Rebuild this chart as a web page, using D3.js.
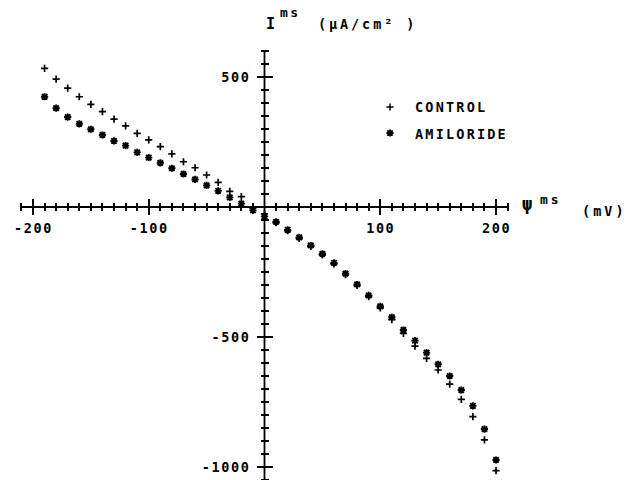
<!DOCTYPE html>
<html>
<head>
<meta charset="utf-8">
<script src="https://cdn.jsdelivr.net/npm/d3@7"></script>
<style>
  html, body { margin: 0; padding: 0; background: #fff; }
  svg { display: block; }
  text { font-family: "DejaVu Sans Mono", "Liberation Mono", monospace; fill: #000; font-weight: bold; }
</style>
</head>
<body>
<svg id="chart" width="640" height="480"></svg>
<script>
// Membrane potential steps (mV)
const potentials = [-190,-180,-170,-160,-150,-140,-130,-120,-110,-100,-90,-80,-70,-60,-50,-40,-30,-20,-10,0,
                    10,20,30,40,50,60,70,80,90,100,110,120,130,140,150,160,170,180,190,200];
// Current density, control (µA/cm²)
const control = [533,492,457,424,395,367,338,312,283,258,232,204,174,151,123,95,60,40,-3,-26,
                 -60,-91,-121,-152,-184,-219,-260,-302,-345,-388,-433,-486,-535,-582,-627,-681,-740,-806,-896,-1014];
// Current density, with amiloride (µA/cm²)
const amiloride = [424,380,346,320,299,277,254,236,210,190,170,149,127,106,83,62,37,13,-13,-36,
                   -57,-88,-117,-148,-180,-215,-256,-298,-340,-382,-424,-473,-514,-560,-605,-650,-704,-765,-854,-973];

const xMajor = [-200,-100,100,200];
const yMajor = [500,-500,-1000];
const xLabels = ["-200","-100","100","200"];
const yLabels = ["500","-500","-1000"];
const seriesNames = ["CONTROL","AMILORIDE"];

const svg = d3.select("#chart");

const x = d3.scaleLinear().domain([-210, 210]).range([21.4, 507.6]);
const y = d3.scaleLinear().domain([600, -1050]).range([51, 480]);

const x0 = x(0), y0 = y(0);
const ink = "#000";

// Axis lines
svg.append("path")
  .attr("d", `M${x(-210)},${y0}H${x(210)}M${x0},${y(600)}V${y(-1050)}`)
  .attr("fill", "none").attr("stroke", ink).attr("stroke-width", 1.8);

// Tick marks crossing the x axis every 10 mV
svg.append("g").selectAll("rect")
  .data(d3.range(-210, 211, 10).filter(v => v !== 0))
  .join("rect")
  .attr("x", d => Math.round(x(d)) - 1)
  .attr("width", 2)
  .attr("y", d => Math.round(y0) - (xMajor.includes(d) ? 8 : 4))
  .attr("height", d => 2 * (xMajor.includes(d) ? 8 : 4))
  .attr("fill", ink);

// Tick marks crossing the y axis every 50 µA/cm²
svg.append("g").selectAll("rect")
  .data(d3.range(-1050, 601, 50).filter(v => v !== 0))
  .join("rect")
  .attr("y", d => Math.round(y(d)) - 1)
  .attr("height", 2)
  .attr("x", d => Math.round(x0) - (yMajor.includes(d) ? 8 : 4))
  .attr("width", d => 2 * (yMajor.includes(d) ? 8 : 4))
  .attr("fill", ink);

// Tick labels
const gxl = svg.append("g").attr("transform", `translate(0,${y0})`).call(
  d3.axisBottom(x).tickValues(xMajor).tickSize(0).tickPadding(16)
    .tickFormat((d, i) => xLabels[i]));
gxl.select(".domain").remove();
gxl.selectAll("text").attr("font-size", 13.5).attr("letter-spacing", "1.6px")
   .attr("font-family", "DejaVu Sans Mono").attr("font-weight", "bold").attr("fill", ink);

const gyl = svg.append("g").attr("transform", `translate(${x0},0)`).call(
  d3.axisLeft(y).tickValues(yMajor).tickSize(0).tickPadding(14)
    .tickFormat((d, i) => yLabels[i]));
gyl.select(".domain").remove();
gyl.selectAll("text").attr("font-size", 13.5).attr("letter-spacing", "1.6px")
   .attr("font-family", "DejaVu Sans Mono").attr("font-weight", "bold").attr("fill", ink);

// Markers
const plusPath = "M-3.6,0H3.6M0,-3.6V3.6";
const starPath = "M-3.6,0H3.6M0,-3.6V3.6M-2.7,-2.7L2.7,2.7M-2.7,2.7L2.7,-2.7";

function drawSeries(values, path, width) {
  svg.append("g").selectAll("path")
    .data(potentials.map((p, i) => [p, values[i]]))
    .join("path")
    .attr("transform", d => `translate(${x(d[0])},${y(d[1])})`)
    .attr("d", path)
    .attr("fill", "none")
    .attr("stroke", ink)
    .attr("stroke-width", width);
}
drawSeries(amiloride, starPath, 1.9);
drawSeries(control, plusPath, 1.7);

// Legend
const legend = svg.append("g");
legend.append("path").attr("transform", "translate(390,107)").attr("d", plusPath)
  .attr("stroke", ink).attr("stroke-width", 1.5).attr("fill", "none");
legend.append("path").attr("transform", "translate(390,133)").attr("d", starPath)
  .attr("stroke", ink).attr("stroke-width", 1.8).attr("fill", "none");
legend.selectAll("text.lg").data(seriesNames).join("text")
  .attr("class", "lg")
  .attr("x", 415).attr("y", (d, i) => 112 + i * 26.5)
  .attr("font-size", 13.5).attr("letter-spacing", "2.2px")
  .text(d => d);

// Axis titles
svg.append("text").attr("x", 266).attr("y", 29).attr("font-size", 15).text("I");
svg.append("text").attr("x", 280).attr("y", 17).attr("font-size", 13).attr("letter-spacing", "2.5px").text("ms");
svg.append("text").attr("x", 318).attr("y", 29).attr("font-size", 13.5).attr("letter-spacing", "2.9px").text("(μA/cm² )");

svg.append("text").attr("x", 522).attr("y", 210).attr("font-size", 17).text("ψ");
svg.append("text").attr("x", 540).attr("y", 204).attr("font-size", 13).attr("letter-spacing", "3px").text("ms");
svg.append("text").attr("x", 582).attr("y", 216).attr("font-size", 13.5).attr("letter-spacing", "3px").text("(mV)");
</script>
</body>
</html>
